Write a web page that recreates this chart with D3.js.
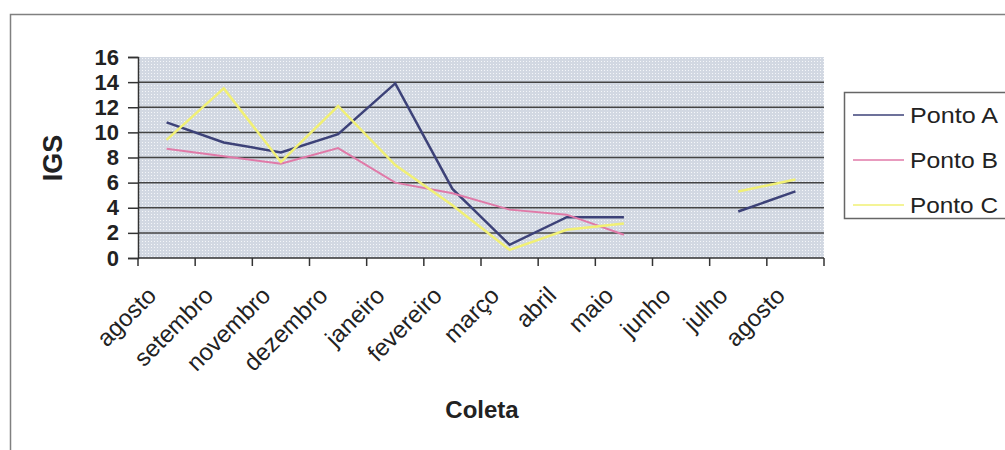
<!DOCTYPE html>
<html lang="pt">
<head>
<meta charset="UTF-8">
<title>IGS por coleta</title>
<script src="https://cdn.jsdelivr.net/npm/d3@7/dist/d3.min.js"></script>
<style>
    body { margin: 0; background: #fff; }
    svg { display: block; font-family: "Liberation Sans", Arial, sans-serif; }
</style>
</head>
<body>
<div id="chart"></div>
<script>
// dados
const coletas = ["agosto", "setembro", "novembro", "dezembro", "janeiro", "fevereiro",
    "março", "abril", "maio", "junho", "julho", "agosto "];
const pontoA = [10.8, 9.2, 8.4, 9.85, 13.9, 5.5, 1.05, 3.25, 3.25, null, 3.7, 5.3];
const pontoB = [8.7, 8.1, 7.5, 8.75, 6.0, 5.15, 3.85, 3.45, 1.85, null, null, null];
const pontoC = [9.4, 13.5, 7.65, 12.1, 7.4, 4.2, 0.65, 2.25, 2.75, null, 5.3, 6.25];
const yTicks = [0, 2, 4, 6, 8, 10, 12, 14, 16];

const series = [
    { nome: "Ponto A", valores: pontoA, cor: "#3d4278", largura: 2.5 },
    { nome: "Ponto B", valores: pontoB, cor: "#e07aa8", largura: 2 },
    { nome: "Ponto C", valores: pontoC, cor: "#f1f075", largura: 2.5 }
];

const width = 1005, height = 450;
const plot = { left: 138, right: 824, top: 57, bottom: 258 };

const svg = d3.select("#chart").append("svg")
    .attr("width", width)
    .attr("height", height);

// padrão pontilhado do fundo
const pat = svg.append("defs").append("pattern")
    .attr("id", "dots")
    .attr("width", 3).attr("height", 3)
    .attr("patternUnits", "userSpaceOnUse");
pat.append("rect").attr("width", 3).attr("height", 3).attr("fill", "#d2d8e2");
pat.append("rect").attr("x", 1).attr("y", 1).attr("width", 1).attr("height", 1)
    .attr("fill", "#f4f6f9");

// moldura externa
svg.append("rect")
    .attr("x", 10.5).attr("y", 14.5)
    .attr("width", 1100).attr("height", 500)
    .attr("fill", "none")
    .attr("stroke", "#808080")
    .attr("stroke-width", 1.5);

const x = d3.scaleBand().domain(coletas).range([plot.left, plot.right]);
const y = d3.scaleLinear().domain([0, 16]).range([plot.bottom, plot.top]);
const cx = c => x(c) + x.bandwidth() / 2;

svg.append("rect")
    .attr("x", plot.left).attr("y", plot.top)
    .attr("width", plot.right - plot.left)
    .attr("height", plot.bottom - plot.top)
    .attr("fill", "url(#dots)");

// linhas de grade
svg.append("g").selectAll("line")
    .data(yTicks.filter(v => v > 0 && v < 16))
    .join("line")
    .attr("x1", plot.left).attr("x2", plot.right)
    .attr("y1", d => y(d)).attr("y2", d => y(d))
    .attr("stroke", "#444")
    .attr("stroke-width", 1.5);

// eixo Y
const yAxis = svg.append("g")
    .attr("transform", `translate(${plot.left},0)`)
    .call(d3.axisLeft(y).tickValues(yTicks).tickSize(10).tickPadding(9));
yAxis.select(".domain").attr("stroke", "#333").attr("stroke-width", 1.5);
yAxis.selectAll(".tick line").attr("stroke", "#333").attr("stroke-width", 1.5);
yAxis.selectAll(".tick text")
    .attr("font-size", 22)
    .attr("font-weight", "bold")
    .attr("fill", "#222")
    .attr("font-family", "'Liberation Sans', Arial, sans-serif");

// eixo X
svg.append("line")
    .attr("x1", plot.left).attr("x2", plot.right)
    .attr("y1", plot.bottom).attr("y2", plot.bottom)
    .attr("stroke", "#333").attr("stroke-width", 1.5);

const bordas = coletas.map(c => x(c)).concat([plot.right]);
svg.append("g").selectAll("line")
    .data(bordas)
    .join("line")
    .attr("x1", d => d).attr("x2", d => d)
    .attr("y1", plot.bottom).attr("y2", plot.bottom + 8)
    .attr("stroke", "#333").attr("stroke-width", 1.5);

svg.append("g").selectAll("text")
    .data(coletas)
    .join("text")
    .attr("transform", d => `translate(${cx(d) - 9},297) rotate(-45)`)
    .attr("text-anchor", "end")
    .attr("font-size", 24)
    .attr("fill", "#222")
    .text(d => d.trim());

// títulos dos eixos
svg.append("text")
    .attr("transform", "translate(62,158) rotate(-90)")
    .attr("text-anchor", "middle")
    .attr("font-size", 27)
    .attr("font-weight", "bold")
    .attr("fill", "#222")
    .text("IGS");

svg.append("text")
    .attr("x", 482).attr("y", 418)
    .attr("text-anchor", "middle")
    .attr("font-size", 24)
    .attr("font-weight", "bold")
    .attr("fill", "#222")
    .text("Coleta");

// linhas das séries (junho sem dado: a linha é interrompida)
const line = d3.line()
    .defined(d => d.v != null)
    .x(d => cx(d.c))
    .y(d => y(d.v));

svg.append("g").selectAll("path")
    .data(series)
    .join("path")
    .attr("d", s => line(s.valores.map((v, i) => ({ c: coletas[i], v }))))
    .attr("fill", "none")
    .attr("stroke", s => s.cor)
    .attr("stroke-width", s => s.largura);

// legenda
const leg = svg.append("g");
leg.append("rect")
    .attr("x", 844.5).attr("y", 92.5)
    .attr("width", 300).attr("height", 126)
    .attr("fill", "#fff")
    .attr("stroke", "#666")
    .attr("stroke-width", 1.5);

const item = leg.selectAll("g.item")
    .data(series)
    .join("g")
    .attr("class", "item")
    .attr("transform", (d, i) => `translate(0,${115 + i * 45})`);
item.append("line")
    .attr("x1", 853).attr("x2", 904)
    .attr("stroke", d => d.cor)
    .attr("stroke-width", 1.5);
item.append("text")
    .attr("x", 910).attr("y", 7.5)
    .attr("font-size", 22)
    .attr("fill", "#222")
    .attr("textLength", 88)
    .attr("lengthAdjust", "spacingAndGlyphs")
    .text(d => d.nome);
</script>
</body>
</html>
